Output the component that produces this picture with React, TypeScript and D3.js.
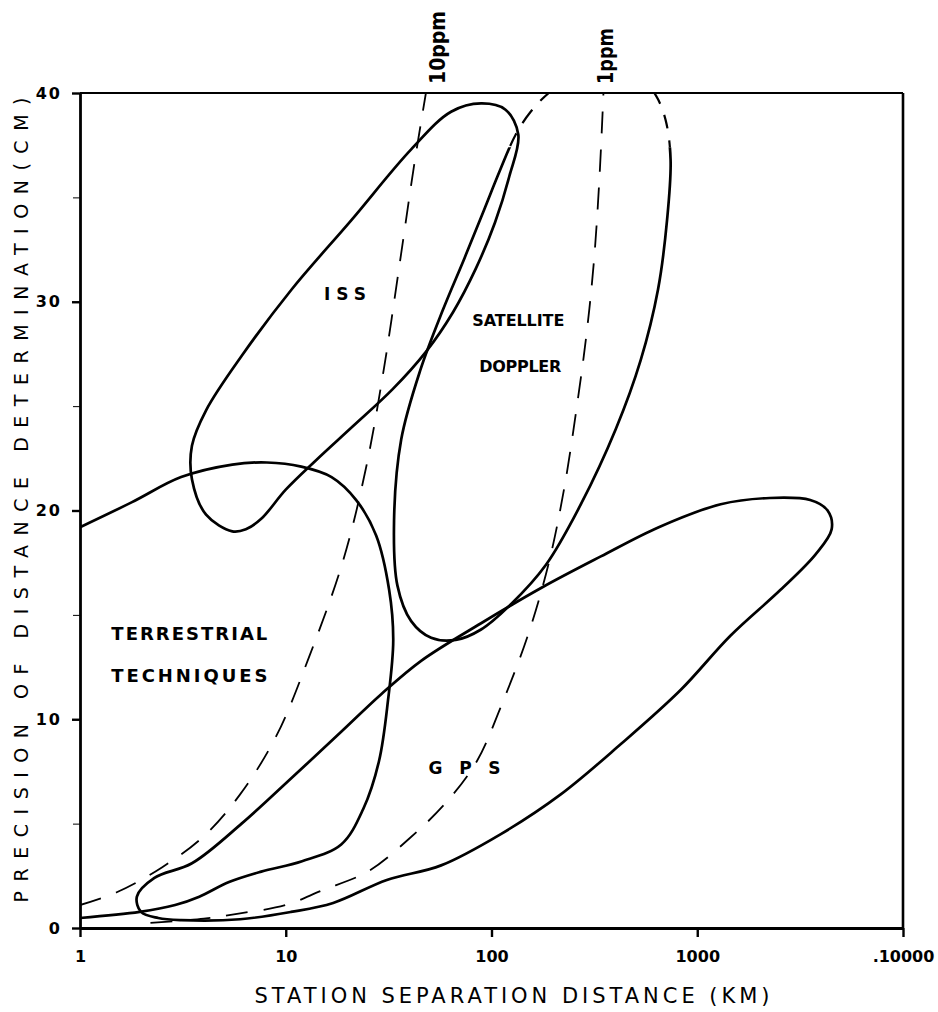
import React, { useEffect, useRef } from 'react';
import * as d3 from 'd3';

// axis ticks
const xTicks = [1, 10, 100, 1000, 10000];
const xTickLabels = ['1', '10', '100', '1000', '.10000'];
const yTicks = [0, 10, 20, 30, 40];
const yMinorTicks = [5, 15, 25, 35];

// region outlines, [distance km, precision cm]
const issOutline: [number, number][] = [
  [5.5, 19.0], [4.1, 19.8], [3.5, 21.5], [3.5, 23.1], [4.1, 24.8], [6.1, 27.4],
  [10.7, 30.6], [20.8, 33.9], [40.7, 37.3], [63.6, 39.1], [89, 39.5], [117, 39.2],
  [135, 38.0], [122, 36.0], [104, 33.8], [84, 31.6], [65, 29.5], [48, 27.6],
  [33, 25.8], [21, 24.0], [14, 22.4], [10, 21.0], [7.6, 19.6], [6.4, 19.1],
];

const dopplerOutline: [number, number][] = [
  [190, 40.0], [155, 39.1], [131, 38.0], [110, 36.3], [92, 34.4], [74, 32.1],
  [58, 29.6], [45, 26.7], [36.4, 23.4], [33.6, 19.5], [34.9, 16.4], [40.7, 14.7],
  [50.9, 13.9], [67, 13.8], [89, 14.3], [124, 15.5], [184, 17.4], [272, 20.3],
  [402, 23.9], [531, 27.2], [645, 30.6], [713, 33.9], [742, 36.8], [702, 38.7],
  [628, 39.9], [531, 40.7], [340, 41.2], [244, 40.7],
];

const terrestrialOutline: [number, number][] = [
  [1, 19.2], [1.79, 20.4], [3.1, 21.6], [5.5, 22.2], [8.1, 22.3], [11.9, 22.1],
  [16.7, 21.6], [22, 20.5], [27.5, 18.8], [31.8, 16.2], [33.3, 13.8], [31.4, 10.9],
  [28.4, 8.0], [23.8, 5.7], [18.6, 4.0], [12, 3.2], [7.6, 2.7], [5.3, 2.2],
  [3.8, 1.5], [2.9, 1.1], [1.95, 0.77], [1, 0.48],
];

const gpsOutline: [number, number][] = [
  [1.89, 1.5], [1.98, 0.77], [2.4, 0.48], [3.1, 0.38], [6, 0.42], [10.6, 0.77],
  [17, 1.2], [31, 2.3], [56.9, 3.0], [111, 4.5], [217, 6.4], [424, 8.8], [830, 11.4],
  [1449, 14.0], [2540, 16.2], [3760, 17.9], [4500, 19.1], [4300, 20.0], [3540, 20.5],
  [2250, 20.6], [1300, 20.3], [650, 19.2], [340, 17.8], [175, 16.3], [89, 14.6],
  [45.5, 12.8], [29.1, 11.2], [18.6, 9.4], [10.7, 7.2], [6.1, 5.0], [3.5, 3.1],
  [2.3, 2.4],
];

// constant ppm lines
const ppm10Line: [number, number][] = [
  [1, 1.1], [1.5, 1.7], [2.5, 2.9], [4, 4.4], [6, 6.4], [9, 9.2], [13, 13],
  [19, 17.6], [24.5, 22], [30, 26.8], [36, 32], [42, 36.5], [48, 40],
];
const ppm1Line: [number, number][] = [
  [2.2, 0.25], [4, 0.45], [6, 0.7], [10, 1.1], [15, 1.8], [25, 2.7], [40, 4.3],
  [60, 6], [85, 8], [110, 10.5], [150, 14], [190, 17.5], [225, 21], [260, 25],
  [290, 28.5], [315, 32], [335, 36], [350, 40],
];

const App = () => {
  const svgRef = useRef<SVGSVGElement>(null);

  useEffect(() => {
    const width = 938;
    const height = 1012;
    const svg = d3.select(svgRef.current);
    svg.selectAll('*').remove();

    const x = d3.scaleLog().domain([1, 10000]).range([80, 903]);
    const y = d3.scaleLinear().domain([0, 40]).range([928, 93]);

    const defs = svg.append('defs');
    defs.append('clipPath').attr('id', 'plot')
      .append('rect').attr('x', x(1)).attr('y', y(40) - 2)
      .attr('width', x(10000) - x(1)).attr('height', y(0) - y(40) + 2);
    defs.append('clipPath').attr('id', 'solidPart')
      .append('rect').attr('x', x(1)).attr('y', y(37.4))
      .attr('width', x(10000) - x(1)).attr('height', y(0) - y(37.4));
    defs.append('clipPath').attr('id', 'dashPart')
      .append('rect').attr('x', x(1)).attr('y', y(40))
      .attr('width', x(10000) - x(1)).attr('height', y(37.4) - y(40));

    svg.append('rect').attr('width', width).attr('height', height).attr('fill', '#fff');

    const font = 'DejaVu Sans, Verdana, sans-serif';

    // frame
    svg.append('line').attr('x1', x(1)).attr('x2', x(10000)).attr('y1', y(40)).attr('y2', y(40))
      .attr('stroke', '#000').attr('stroke-width', 2.2);
    svg.append('line').attr('x1', x(10000)).attr('x2', x(10000)).attr('y1', y(40)).attr('y2', y(0))
      .attr('stroke', '#000').attr('stroke-width', 2.6);

    // y axis
    const yAxis = svg.append('g')
      .attr('transform', `translate(${x(1)},0)`)
      .call(d3.axisLeft(y).tickValues(yTicks).tickSize(8).tickPadding(10).tickSizeOuter(0));
    svg.append('g')
      .attr('transform', `translate(${x(1)},0)`)
      .call(d3.axisLeft(y).tickValues(yMinorTicks).tickSize(7).tickFormat(() => '').tickSizeOuter(0))
      .call(g => g.select('.domain').remove());

    // x axis
    const xAxis = svg.append('g')
      .attr('transform', `translate(0,${y(0)})`)
      .call(d3.axisBottom(x).tickValues(xTicks).tickSize(9).tickPadding(14).tickSizeOuter(0)
        .tickFormat((d, i) => xTickLabels[i]));

    [yAxis, xAxis].forEach(g => {
      g.select('.domain').attr('stroke-width', 2.8);
      g.selectAll('.tick line').attr('stroke-width', 2.4);
      g.selectAll('text').attr('font-family', font).attr('font-weight', 'bold')
        .attr('font-size', 16).attr('fill', '#000');
    });
    yAxis.selectAll('text').attr('letter-spacing', 2);

    // axis titles
    svg.append('text')
      .attr('x', 512).attr('y', 1003)
      .attr('text-anchor', 'middle')
      .attr('font-family', font).attr('font-size', 21)
      .attr('textLength', 515).attr('lengthAdjust', 'spacing')
      .text('STATION  SEPARATION  DISTANCE (KM)');
    svg.append('text')
      .attr('transform', 'translate(28,500) rotate(-90)')
      .attr('text-anchor', 'middle')
      .attr('font-family', font).attr('font-size', 19)
      .attr('textLength', 805).attr('lengthAdjust', 'spacing')
      .text('PRECISION OF DISTANCE DETERMINATION(CM)');

    const plot = svg.append('g').attr('clip-path', 'url(#plot)');
    const lineOpen = d3.line<[number, number]>()
      .x(d => x(d[0])).y(d => y(d[1])).curve(d3.curveCatmullRom.alpha(0.5));
    const lineClosed = d3.line<[number, number]>()
      .x(d => x(d[0])).y(d => y(d[1])).curve(d3.curveCatmullRomClosed.alpha(0.5));

    const solid = (sel: any) => sel.attr('fill', 'none').attr('stroke', '#000')
      .attr('stroke-width', 2.7).attr('stroke-linejoin', 'round');
    const dashed = (sel: any) => sel.attr('fill', 'none').attr('stroke', '#000')
      .attr('stroke-width', 1.8).attr('stroke-dasharray', '22 16');

    plot.append('path').attr('d', lineOpen(ppm10Line)).call(dashed);
    plot.append('path').attr('d', lineOpen(ppm1Line)).call(dashed);

    plot.append('path').attr('d', lineClosed(issOutline)).call(solid);
    plot.append('path').attr('d', lineOpen(terrestrialOutline)).call(solid);
    plot.append('path').attr('d', lineClosed(gpsOutline)).call(solid);

    plot.append('g').attr('clip-path', 'url(#solidPart)')
      .append('path').attr('d', lineClosed(dopplerOutline)).call(solid);
    plot.append('g').attr('clip-path', 'url(#dashPart)')
      .append('path').attr('d', lineClosed(dopplerOutline)).call(dashed)
      .attr('stroke-width', 2.2).attr('stroke-dasharray', '14 12');

    // region labels
    const label = (t: string, px: number, py: number, size: number, len: number) =>
      svg.append('text').attr('x', px).attr('y', py)
        .attr('text-anchor', 'middle')
        .attr('font-family', font).attr('font-size', size).attr('font-weight', 'bold')
        .attr('textLength', len).attr('lengthAdjust', 'spacing').text(t);
    label('ISS', x(19.4), y(30.1), 17, 42);
    label('SATELLITE', x(135), y(28.85), 16, 92);
    label('DOPPLER', x(138), y(26.65), 16, 82);
    label('TERRESTRIAL', x(3.4), y(13.8), 18, 156);
    label('TECHNIQUES', x(3.4), y(11.8), 18, 156);
    label('GPS', x(74), y(7.4), 17, 72);

    // ppm labels above the frame
    const ppmLabel = (t: string, px: number, len: number) =>
      svg.append('text').attr('transform', `translate(${px},84) rotate(-90)`)
        .attr('font-family', font).attr('font-size', 22).attr('font-weight', 'bold')
        .attr('textLength', len).attr('lengthAdjust', 'spacingAndGlyphs')
        .text(t);
    ppmLabel('10ppm', 445, 73);
    ppmLabel('1ppm', 613, 56);
  }, []);

  return (
    <div style={{ position: 'absolute', left: 0, top: 0 }}>
      <svg ref={svgRef} width={938} height={1012}></svg>
    </div>
  );
};

export default App;
